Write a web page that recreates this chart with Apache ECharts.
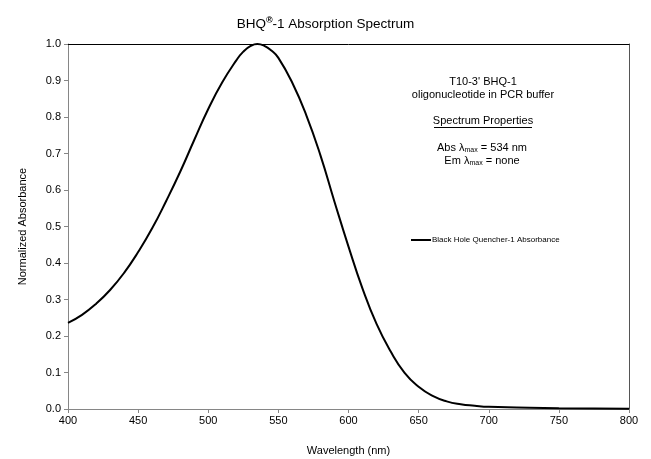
<!DOCTYPE html>
<html>
<head>
<meta charset="utf-8">
<script src="https://cdn.jsdelivr.net/npm/echarts@6/dist/echarts.min.js"></script>
<style>
  html, body { margin: 0; padding: 0; background: #fff; }
  #chart { width: 651px; height: 459px; }
</style>
</head>
<body>
<div id="chart"></div>
<script>
// wavelength (nm) and normalized absorbance
var wavelengths = [400, 410, 420, 430, 440, 450, 460, 470, 480, 490,
  500, 510, 520, 525, 530, 535, 540, 545, 550, 560, 570, 580, 590,
  600, 610, 620, 630, 640, 650, 660, 670, 680, 690, 700, 720, 750, 800];
var absorbance = [0.236, 0.258, 0.288, 0.326, 0.373, 0.430, 0.495, 0.570, 0.650, 0.737,
  0.822, 0.895, 0.955, 0.979, 0.994, 1.000, 0.995, 0.982, 0.962, 0.893, 0.804, 0.695, 0.568,
  0.445, 0.330, 0.233, 0.158, 0.099, 0.061, 0.036, 0.021, 0.013, 0.009, 0.006, 0.004, 0.002, 0.001];
var seriesName = "Black Hole Quencher-1 Absorbance";

var font = "Liberation Sans, Arial, sans-serif";
var axisGray = "#868686";

var chart = echarts.init(document.getElementById("chart"), null, { renderer: "canvas" });

var option = {
  backgroundColor: "#fff",
  animation: false,
  textStyle: { fontFamily: font, color: "#000" },
  title: {
    text: "{m|BHQ}{s|®}{m|-1 Absorption Spectrum}",
    left: "center",
    top: 11,
    textStyle: {
      rich: {
        m: { fontFamily: font, fontSize: 13.5, fontWeight: "normal", color: "#000", lineHeight: 17 },
        s: { fontFamily: font, fontSize: 9, color: "#000", lineHeight: 8, verticalAlign: "top" }
      }
    }
  },
  grid: { left: 68, top: 44, right: 22, bottom: 50, outerBoundsMode: "none" },
  legend: {
    data: [seriesName],
    left: 406,
    top: 231,
    icon: "rect",
    itemWidth: 20,
    itemHeight: 2,
    itemGap: 2,
    textStyle: { fontFamily: font, fontSize: 8, color: "#000", padding: [0, 0, 0, -4] }
  },
  xAxis: [{
    type: "value",
    min: 400, max: 800, interval: 50,
    name: "Wavelength (nm)",
    nameLocation: "middle",
    nameGap: 36,
    nameTextStyle: { fontFamily: font, fontSize: 11, color: "#000" },
    axisLine: { show: true, lineStyle: { color: axisGray, width: 1 } },
    axisTick: { show: true, length: 4, lineStyle: { color: axisGray } },
    axisLabel: { fontFamily: font, fontSize: 11, color: "#000", margin: 6 },
    splitLine: { show: false }
  }, {
    type: "value", position: "top",
    min: 400, max: 800,
    axisLine: { show: true, onZero: false, lineStyle: { color: "#000", width: 1 } },
    axisTick: { show: false }, axisLabel: { show: false }, splitLine: { show: false }
  }],
  yAxis: [{
    type: "value",
    min: 0, max: 1, interval: 0.1,
    name: "Normalized Absorbance",
    nameLocation: "middle",
    nameGap: 40,
    nameTextStyle: { fontFamily: font, fontSize: 11, color: "#000" },
    axisLine: { show: true, lineStyle: { color: axisGray, width: 1 } },
    axisTick: { show: true, length: 4, lineStyle: { color: axisGray } },
    axisLabel: { fontFamily: font, fontSize: 11, color: "#000", margin: 7,
      formatter: function (v) { return v.toFixed(1); } },
    splitLine: { show: false }
  }, {
    type: "value", position: "right",
    min: 0, max: 1,
    axisLine: { show: true, onZero: false, lineStyle: { color: "#555", width: 1 } },
    axisTick: { show: false }, axisLabel: { show: false }, splitLine: { show: false }
  }],
  series: [{
    name: seriesName,
    type: "line",
    data: wavelengths.map(function (w, i) { return [w, absorbance[i]]; }),
    showSymbol: false,
    smooth: 0.5,
    lineStyle: { color: "#000", width: 2 },
    itemStyle: { color: "#000" }
  }],
  graphic: [{
    type: "text",
    x: 483, y: 75,
    style: {
      text: "T10-3' BHQ-1\noligonucleotide in PCR buffer",
      font: "11px " + font, fill: "#000", align: "center", lineHeight: 13
    }
  }, {
    type: "text",
    x: 483, y: 115,
    style: { text: "Spectrum Properties", font: "11px " + font, fill: "#000", align: "center" }
  }, {
    type: "line",
    shape: { x1: 434, y1: 127.5, x2: 532, y2: 127.5 },
    style: { stroke: "#000", lineWidth: 1 }
  }, {
    type: "text",
    x: 482, y: 141,
    style: {
      text: "{m|Abs λ}{s|max}{m| = 534 nm}\n{m|Em λ}{s|max}{m| = none}",
      align: "center",
      rich: {
        m: { fontFamily: font, fontSize: 11, fill: "#000", lineHeight: 13 },
        s: { fontFamily: font, fontSize: 7, fill: "#000", lineHeight: 5, verticalAlign: "bottom" }
      }
    }
  }]
};

chart.setOption(option);
</script>
</body>
</html>
